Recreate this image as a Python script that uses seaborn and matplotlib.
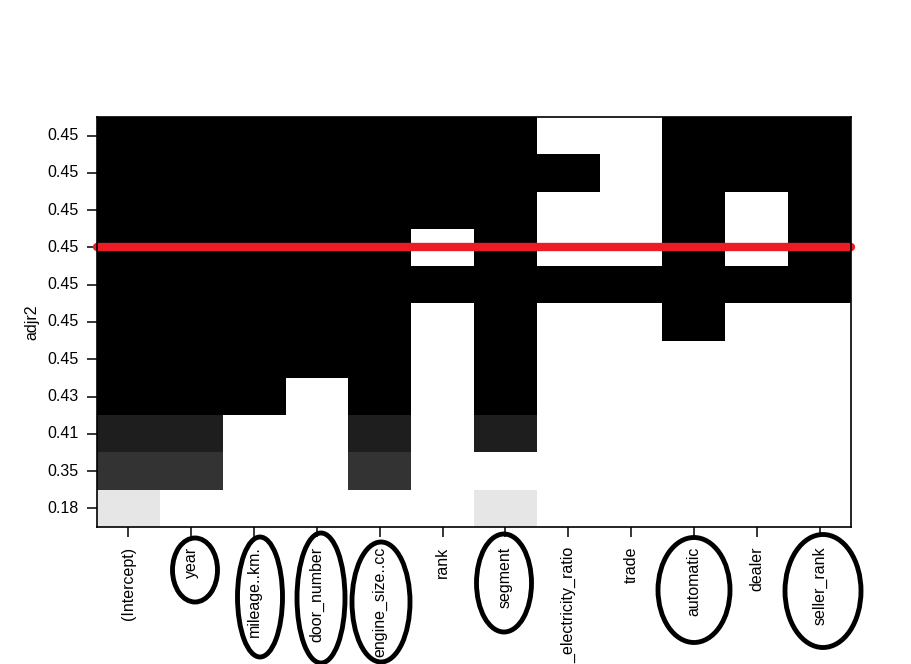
import numpy as np
import pandas as pd
import matplotlib
matplotlib.use("Agg")
import matplotlib.pyplot as plt
import seaborn as sns
from matplotlib.patches import Ellipse

# Variables (columns) of the subset-selection plot
variables = ["(Intercept)", "year", "mileage..km.", "door_number", "engine_size..cc",
             "rank", "segment", "_electricity_ratio", "trade", "automatic",
             "dealer", "seller_rank"]

# adjr2 labels, top to bottom
adjr2_labels = ["0.45", "0.45", "0.45", "0.45", "0.45", "0.45", "0.45",
                "0.43", "0.41", "0.35", "0.18"]

# grey level of each model row (0 = black, 1 = white)
row_shade = [0.0, 0.0, 0.0, 0.0, 0.0, 0.0, 0.0, 0.0, 0.118, 0.2, 0.902]

# 1 = variable included in the model
included = [
    [1, 1, 1, 1, 1, 1, 1, 0, 0, 1, 1, 1],
    [1, 1, 1, 1, 1, 1, 1, 1, 0, 1, 1, 1],
    [1, 1, 1, 1, 1, 1, 1, 0, 0, 1, 0, 1],
    [1, 1, 1, 1, 1, 0, 1, 0, 0, 1, 0, 1],
    [1, 1, 1, 1, 1, 1, 1, 1, 1, 1, 1, 1],
    [1, 1, 1, 1, 1, 0, 1, 0, 0, 1, 0, 0],
    [1, 1, 1, 1, 1, 0, 1, 0, 0, 0, 0, 0],
    [1, 1, 1, 0, 1, 0, 1, 0, 0, 0, 0, 0],
    [1, 1, 0, 0, 1, 0, 1, 0, 0, 0, 0, 0],
    [1, 1, 0, 0, 1, 0, 0, 0, 0, 0, 0, 0],
    [1, 0, 0, 0, 0, 0, 1, 0, 0, 0, 0, 0],
]

# labels circled on the picture
circled = ["year", "mileage..km.", "door_number", "engine_size..cc",
           "segment", "automatic", "seller_rank"]

inc = np.array(included)
shade = np.array(row_shade)[:, None]
grid = np.where(inc == 1, shade, 1.0)
df = pd.DataFrame(grid, index=range(len(adjr2_labels)), columns=variables)

plt.rcParams["font.family"] = ["Liberation Sans", "DejaVu Sans"]

W, H = 911, 664
fig = plt.figure(figsize=(W / 100, H / 100), dpi=100)
ax = fig.add_axes([97 / W, 1 - 527 / H, (851 - 97) / W, (527 - 117) / H])

sns.heatmap(df, ax=ax, cmap="gray", vmin=0, vmax=1, cbar=False,
            xticklabels=variables, yticklabels=adjr2_labels, linewidths=0)

for s in ax.spines.values():
    s.set_visible(True)
    s.set_color("black")
    s.set_linewidth(1.2)

ax.tick_params(axis="both", direction="out", length=7, width=1.1,
               color="black", labelsize=11.5, labelcolor="black")
ax.tick_params(axis="x", pad=7)
ax.tick_params(axis="y", pad=6)
plt.setp(ax.get_xticklabels(), rotation=90, va="top", ha="center")
plt.setp(ax.get_yticklabels(), rotation=0)
ax.set_xlabel("")
ax.set_ylabel("")
fig.text(32 / W, 1 - 322 / H, "adjr2", rotation=90, fontsize=11.5,
         ha="center", va="center")

# red reference line through the 4th model
ax.axhline(3.5, color="#ed1c24", lw=6, solid_capstyle="round", clip_on=False)

# hand-drawn ellipses around selected labels (centre x, centre y, w, h in px)
ell_px = {
    "year": (195, 570, 45, 64),
    "mileage..km.": (260, 597, 45, 120),
    "door_number": (321, 598, 48, 130),
    "engine_size..cc": (381, 602, 58, 120),
    "segment": (504, 583, 55, 98),
    "automatic": (694, 590, 72, 105),
    "seller_rank": (823, 591, 76, 113),
}
for name in circled:
    cx, cy, w, h = ell_px[name]
    fig.patches.append(Ellipse((cx / W, 1 - cy / H), w / W, h / H,
                               transform=fig.transFigure, fill=False,
                               edgecolor="black", lw=3.5))

fig.savefig("out.png", dpi=100, facecolor="white")
